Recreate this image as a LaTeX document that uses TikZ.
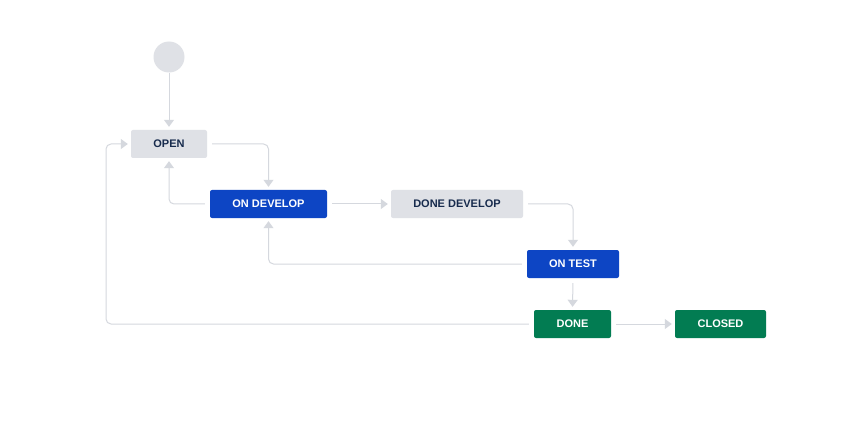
\documentclass[tikz,border=0pt]{standalone}
\usepackage{fontspec}
\setmainfont{Liberation Sans}
\usetikzlibrary{arrows.meta}
\definecolor{statusgray}{HTML}{DFE1E6}
\definecolor{statusblue}{HTML}{0D45C4}
\definecolor{statusgreen}{HTML}{027C52}
\definecolor{textdark}{HTML}{172B4D}
\definecolor{linkgray}{HTML}{D5D8DE}
\begin{document}
\begin{tikzpicture}[x=1pt,y=-1pt,
  status/.style={rounded corners=2pt, minimum height=28pt, inner sep=0pt,
    font=\fontsize{11}{13}\selectfont\bfseries},
  todo/.style={status, fill=statusgray, text=textdark},
  doing/.style={status, fill=statusblue, text=white},
  finished/.style={status, fill=statusgreen, text=white},
  link/.style={draw=linkgray, line width=1pt, rounded corners=5pt,
    -{Triangle[length=7pt,width=10pt]}, shorten <=5pt, shorten >=3pt}]
\useasboundingbox (0,0) rectangle (852,433);
\fill[white] (0,0) rectangle (852,433);

% initial state and status boxes
\node[circle, fill=statusgray, minimum size=31pt, inner sep=0pt] (start) at (169,57) {};
\node[todo, minimum width=76pt] (open) at (169,144) {OPEN};
\node[doing, minimum width=117pt] (ondev) at (268.5,204) {ON DEVELOP};
\node[todo, minimum width=132pt] (donedev) at (457,204) {DONE DEVELOP};
\node[doing, minimum width=92pt] (ontest) at (573,264) {ON TEST};
\node[finished, minimum width=77pt] (done) at (572.5,324) {DONE};
\node[finished, minimum width=91pt] (closed) at (720.5,324) {CLOSED};

% transitions
\draw[link, shorten <=0pt] (start) -- (open);
\draw[link] (open.east) -| (ondev.north);
\draw[link] (ondev.west) -| (open.south);
\draw[link] (ondev.east) -- (donedev.west);
\draw[link] (donedev.east) -| (ontest.north);
\draw[link] (ontest.west) -| (ondev.south);
\draw[link] (ontest.south) -- (done.north);
\draw[link] (done.west) -- (106,324) -- (106,144) -- (open.west);
\draw[link] (done.east) -- (closed.west);
\end{tikzpicture}
\end{document}
